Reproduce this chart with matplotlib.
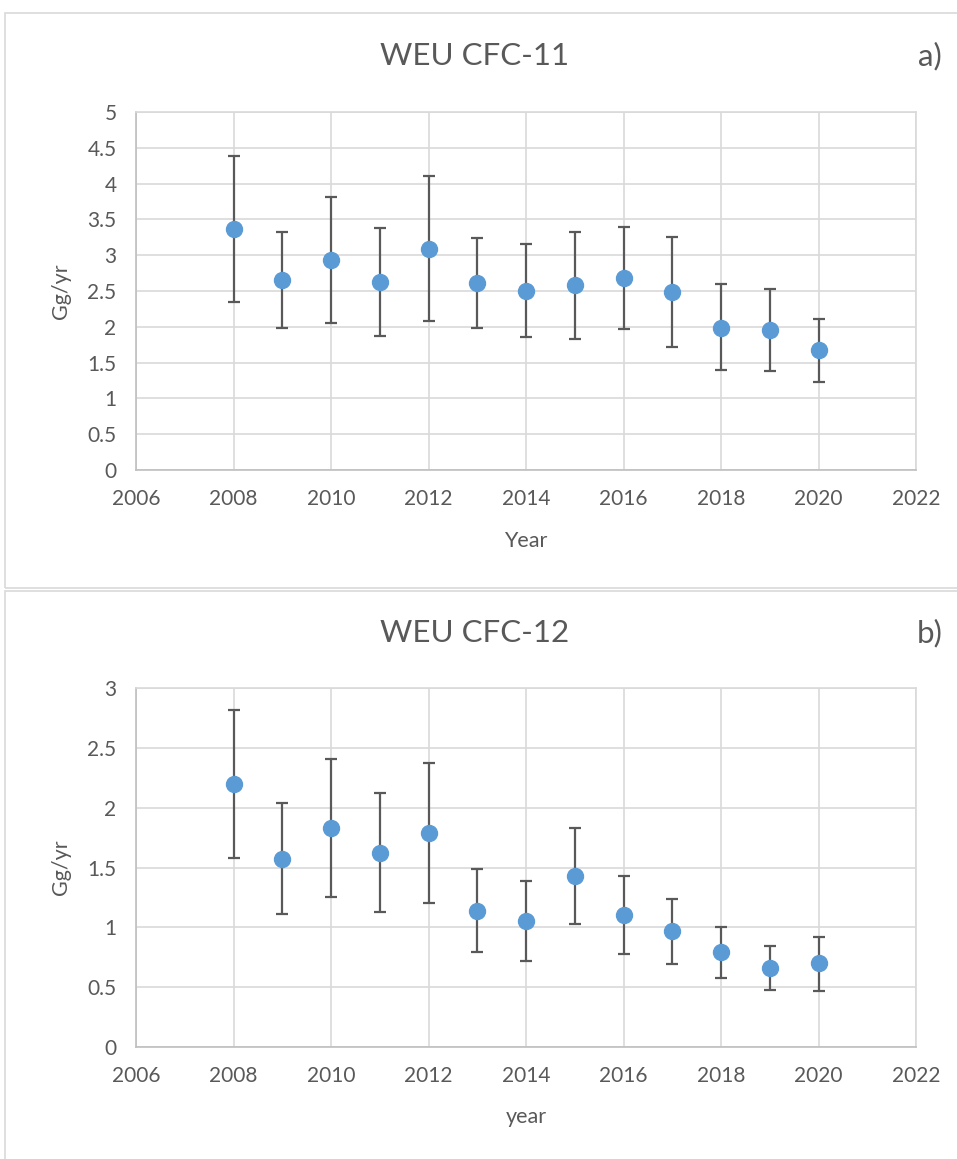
import matplotlib
matplotlib.use('Agg')
import matplotlib.pyplot as plt
from matplotlib.patches import Rectangle

# ------------------------------------------------------------
# data
# ------------------------------------------------------------
years = [2008, 2009, 2010, 2011, 2012, 2013, 2014, 2015, 2016, 2017, 2018, 2019, 2020]

cfc11 = [3.37, 2.66, 2.93, 2.62, 3.09, 2.61, 2.50, 2.58, 2.68, 2.48, 1.99, 1.95, 1.67]
cfc11_hi = [4.39, 3.33, 3.81, 3.38, 4.11, 3.24, 3.15, 3.32, 3.40, 3.25, 2.60, 2.53, 2.11]
cfc11_lo = [2.35, 1.98, 2.06, 1.87, 2.08, 1.98, 1.86, 1.83, 1.97, 1.72, 1.40, 1.38, 1.23]

cfc12 = [2.20, 1.57, 1.83, 1.62, 1.79, 1.14, 1.05, 1.43, 1.10, 0.97, 0.79, 0.66, 0.70]
cfc12_hi = [2.82, 2.04, 2.41, 2.12, 2.37, 1.49, 1.39, 1.83, 1.43, 1.24, 1.00, 0.84, 0.92]
cfc12_lo = [1.58, 1.11, 1.25, 1.13, 1.20, 0.79, 0.72, 1.03, 0.78, 0.69, 0.58, 0.48, 0.47]

xticks = [2006, 2008, 2010, 2012, 2014, 2016, 2018, 2020, 2022]

BLUE = '#5B9BD5'
DARK = '#595959'
GRID = '#D9D9D9'
AXIS = '#BFBFBF'
TEXT = '#595959'

plt.rcParams['font.family'] = ['Lato', 'DejaVu Sans']

W, H = 957, 1159
fig = plt.figure(figsize=(W / 100, H / 100), dpi=100)
fig.patch.set_facecolor('white')


def px_rect(x0, y0, x1, y1):
    # pixel box (top-left origin) -> figure fraction rect
    return [x0 / W, 1 - y1 / H, (x1 - x0) / W, (y1 - y0) / H]


def panel(rect, vals, hi, lo, ymax, ystep, title, tag, xlabel, title_y, xlab_y):
    ax = fig.add_axes(px_rect(*rect))
    err = [[v - l for v, l in zip(vals, lo)], [h - v for v, h in zip(vals, hi)]]
    ax.errorbar(years, vals, yerr=err, fmt='o', color=BLUE, markersize=11.5,
                ecolor=DARK, elinewidth=1.6, capsize=4, capthick=1.6, zorder=3)
    ax.set_xlim(2006, 2022)
    ax.set_ylim(0, ymax)
    ax.set_xticks(xticks)
    yt = [i * ystep for i in range(int(round(ymax / ystep)) + 1)]
    ax.set_yticks(yt)
    ax.set_yticklabels([f'{v:g}' for v in yt])
    ax.grid(True, color=GRID, linewidth=1.2)
    ax.set_axisbelow(True)
    for s in ax.spines.values():
        s.set_color(GRID)
        s.set_linewidth(1.2)
    ax.spines['left'].set_color(AXIS)
    ax.spines['bottom'].set_color(AXIS)
    ax.tick_params(length=0, colors=TEXT, labelsize=15)
    ax.tick_params(axis='x', pad=14)
    ax.tick_params(axis='y', pad=14)

    ymid = (rect[1] + rect[3]) / 2
    fig.text(61 / W, 1 - ymid / H, 'Gg/yr', rotation=90, ha='center',
             va='center', fontsize=15.5, color=TEXT)
    fig.text(475 / W, 1 - title_y / H, title, ha='center', va='center',
             fontsize=22.5, color=TEXT)
    fig.text(930 / W, 1 - title_y / H, tag, ha='center', va='center',
             fontsize=22.5, color=TEXT)
    fig.text(526 / W, 1 - xlab_y / H, xlabel, ha='center', va='center',
             fontsize=15.5, color=TEXT)
    return ax


# panel borders
fig.add_artist(Rectangle((5 / W, 1 - 588 / H), 1.2, (588 - 13) / H,
                         transform=fig.transFigure, fill=False,
                         edgecolor=GRID, linewidth=1.2))
fig.add_artist(Rectangle((5 / W, -0.2), 1.2, 0.2 + (1159 - 591) / H,
                         transform=fig.transFigure, fill=False,
                         edgecolor=GRID, linewidth=1.2))

panel((136, 112, 916, 470), cfc11, cfc11_hi, cfc11_lo, 5, 0.5,
      'WEU CFC-11', 'a)', 'Year', 56, 541)
panel((136, 688, 916, 1047), cfc12, cfc12_hi, cfc12_lo, 3, 0.5,
      'WEU CFC-12', 'b)', 'year', 633, 1117)

fig.savefig('out.png', dpi=100, facecolor='white')
